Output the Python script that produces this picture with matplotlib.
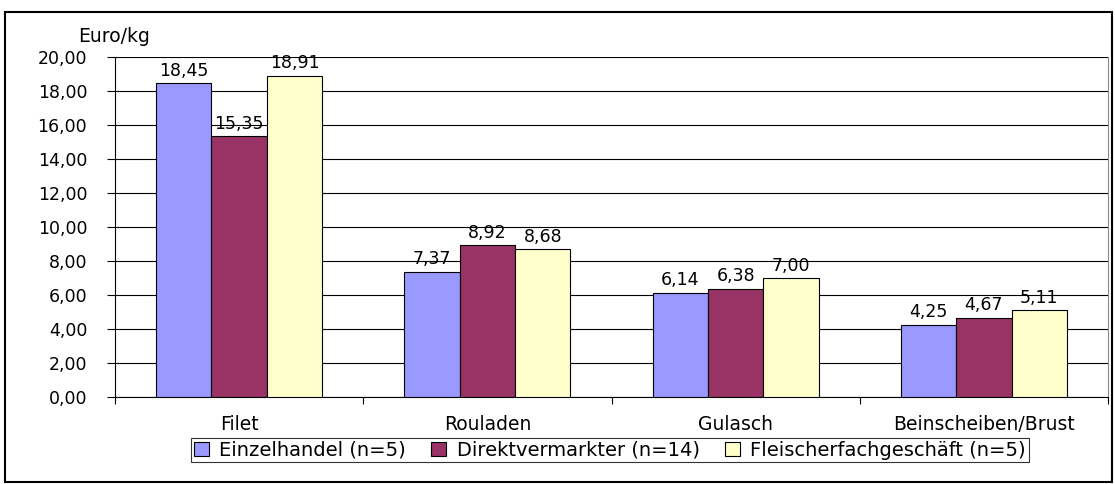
import matplotlib
matplotlib.use("Agg")
import matplotlib.pyplot as plt
from matplotlib.patches import Rectangle
import numpy as np

categories = ["Filet", "Rouladen", "Gulasch", "Beinscheiben/Brust"]
series_names = ["Einzelhandel (n=5)", "Direktvermarkter (n=14)", "Fleischerfachgeschäft (n=5)"]
einzelhandel = [18.45, 7.37, 6.14, 4.25]
direkt = [15.35, 8.92, 6.38, 4.67]
fleischer = [18.91, 8.68, 7.00, 5.11]
yticks = [0, 2, 4, 6, 8, 10, 12, 14, 16, 18, 20]
colors = ["#9999FF", "#993366", "#FFFFCC"]

plt.rcParams['font.family'] = ['DejaVu Sans']
FS = 12.5
FL = 13.5

W, H = 1115, 484
fig = plt.figure(figsize=(W/100, H/100), dpi=100)
fig.patches.append(Rectangle((5/W, 2/H), (W-8)/W, (H-14)/H, transform=fig.transFigure,
                             fill=False, edgecolor='black', linewidth=1.5))
L, R, T, B = 115, 1108, 57, 397
ax = fig.add_axes([L/W, 1-B/H, (R-L)/W, (B-T)/H])
x = np.arange(len(categories))
bw = 0.223
for i, (vals, c) in enumerate(zip([einzelhandel, direkt, fleischer], colors)):
    pos = x + (i-1)*bw
    ax.bar(pos, vals, width=bw, color=c, edgecolor='black', linewidth=0.8,
           label=series_names[i], zorder=3)
    for p, v in zip(pos, vals):
        ax.text(p, v + 0.2, f"{v:.2f}".replace('.', ','), ha='center', va='bottom',
                fontsize=FS, zorder=4)

ax.set_xlim(-0.5, len(categories)-0.5)
ax.set_ylim(0, 20)
ax.set_yticks(yticks)
ax.set_yticklabels([f"{v:.2f}".replace('.', ',') for v in yticks], fontsize=FS)
ax.set_xticks(np.arange(-0.5, len(categories), 1))
ax.set_xticklabels([])
ax.set_xticks(x, minor=True)
ax.set_xticklabels(categories, minor=True, fontsize=FL)
ax.tick_params(axis='x', which='minor', length=0, pad=13)
ax.tick_params(axis='x', which='major', length=5, direction='out', color='black')
ax.tick_params(axis='y', length=6, direction='out', pad=14)
ax.grid(axis='y', color='black', linewidth=0.8, zorder=0)
ax.spines['top'].set_visible(False)
ax.spines['right'].set_color('#888888')
ax.spines['left'].set_color('black')
ax.spines['bottom'].set_color('black')

fig.text(78/W, 1-37/H, "Euro/kg", fontsize=FL, ha='left', va='center')

leg = fig.legend(loc='center', bbox_to_anchor=(610/W, 1-450/H), ncol=3, fontsize=14,
                 frameon=True, fancybox=False, edgecolor='black', handlelength=0.75,
                 handleheight=0.75, handletextpad=0.55, columnspacing=1.3,
                 borderpad=0.15, borderaxespad=0)
leg.get_frame().set_linewidth(0.8)

fig.savefig("out.png", dpi=100)
